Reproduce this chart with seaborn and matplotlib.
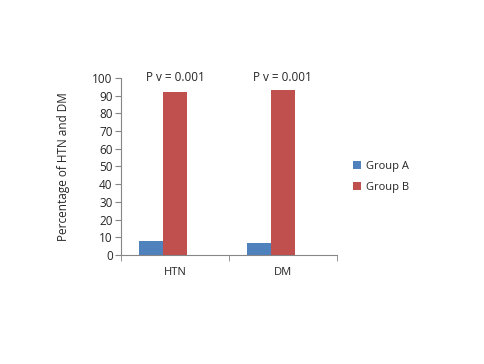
import numpy as np
import pandas as pd
import seaborn as sns
import matplotlib.pyplot as plt
from matplotlib.ticker import FixedLocator

# Data
categories = ['HTN', 'DM']
group_a = [8, 7]
group_b = [92, 93]
p_labels = ['P v = 0.001', 'P v = 0.001']

df = pd.DataFrame({
    'Condition': categories * 2,
    'Group': ['Group A'] * 2 + ['Group B'] * 2,
    'Percent': group_a + group_b,
})

sns.set_style('white')
plt.rcParams['font.family'] = ['Open Sans', 'DejaVu Sans']

fig = plt.figure(figsize=(4.84, 3.64), dpi=100)
ax = fig.add_axes([0.25, 0.2995, 0.446, 0.4865])

sns.barplot(data=df, x='Condition', y='Percent', hue='Group',
            palette=['#4F81BD', '#C0504D'], width=0.444, ax=ax,
            saturation=1, errorbar=None, linewidth=0)

# bars sit a bit left of the category centre in the original
for p in ax.patches:
    p.set_x(p.get_x() - 0.11)

ax.set_xlim(-0.5, 1.5)
ax.set_ylim(0, 100)
ax.set_yticks(np.arange(0, 101, 10))
ax.set_xlabel('')
ax.set_ylabel('Percentage of HTN and DM', fontsize=8.5, labelpad=16)

for i, txt in enumerate(p_labels):
    ax.text(i, 96.5, txt, ha='center', va='bottom', fontsize=8.5)

for side in ['top', 'right']:
    ax.spines[side].set_visible(False)
for side in ['left', 'bottom']:
    ax.spines[side].set_color('#868686')
    ax.spines[side].set_linewidth(0.8)

ax.tick_params(axis='y', which='major', direction='out', length=4,
               color='#868686', labelsize=8.5, pad=2, left=True)
ax.tick_params(axis='x', which='major', length=0, labelsize=8, pad=9)
ax.xaxis.set_minor_locator(FixedLocator([-0.5, 0.5, 1.5]))
ax.tick_params(axis='x', which='minor', direction='out', length=4,
               color='#868686', bottom=True)

ax.legend(loc='center left', bbox_to_anchor=(1.03, 0.44), frameon=False,
          fontsize=8, handlelength=0.7, handleheight=0.7,
          labelspacing=0.9, handletextpad=0.4)

fig.savefig('out.png', dpi=100)
